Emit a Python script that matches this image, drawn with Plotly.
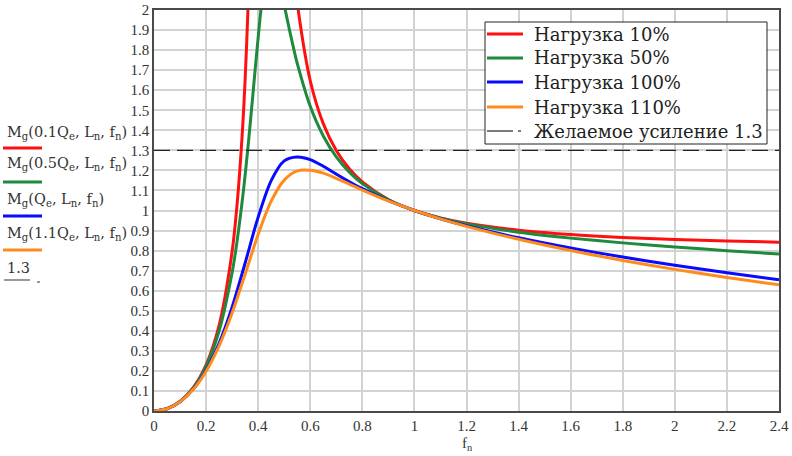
import plotly.graph_objects as go

# ---------------- data ----------------
fn_rg = [0, 0.05, 0.1, 0.15, 0.2, 0.25, 0.3, 0.32, 0.34, 0.35, 0.36, 0.37, 0.38, 0.4, 0.42,
         0.45, 0.48, 0.5, 0.52, 0.54, 0.55, 0.6, 0.65, 0.7, 0.75, 0.8, 0.9, 1.0, 1.1, 1.2,
         1.4, 1.6, 1.8, 2.0, 2.2, 2.4]
load10 = [0, 0.0114, 0.0476, 0.1155, 0.2304, 0.4273, 0.7964, 1.0442, 1.4056, 1.6550, 1.9752,
          2.3996, 2.984, 5.117, 9.76, 6.59, 3.714, 2.9307, 2.4621, 2.1527, 2.0347, 1.6470,
          1.4335, 1.2995, 1.2082, 1.1425, 1.0549, 1.0, 0.9628, 0.9363, 0.9014, 0.8800,
          0.8656, 0.8555, 0.8479, 0.8421]
load50 = [0, 0.0114, 0.0473, 0.1137, 0.2228, 0.3992, 0.6904, 0.8565, 1.0602, 1.1773, 1.3045,
          1.4402, 1.5818, 1.8628, 2.092, 2.2303, 2.1407, 2.0245, 1.9016, 1.7864, 1.7336,
          1.5195, 1.3718, 1.2677, 1.1916, 1.1340, 1.0535, 1.0, 0.9619, 0.9332, 0.8918,
          0.8622, 0.8385, 0.8181, 0.7997, 0.7825]
fn_bo = [0, 0.05, 0.1, 0.15, 0.2, 0.25, 0.3, 0.35, 0.4, 0.45, 0.5, 0.55, 0.6, 0.65, 0.7,
         0.75, 0.8, 0.9, 1.0, 1.1, 1.2, 1.4, 1.6, 1.8, 2.0, 2.2, 2.4]
load100 = [0, 0.0113, 0.0464, 0.1085, 0.2032, 0.3378, 0.5179, 0.7382, 0.9670, 1.1490, 1.2475,
           1.2670, 1.2540, 1.2206, 1.1816, 1.1436, 1.1087, 1.0489, 1.0, 0.9590, 0.9236,
           0.8637, 0.8128, 0.7677, 0.7269, 0.6895, 0.6551]
load110 = [0, 0.0113, 0.0462, 0.1072, 0.1985, 0.3250, 0.4889, 0.6825, 0.8811, 1.0464, 1.1515,
           1.1975, 1.2010, 1.1865, 1.1604, 1.1312, 1.1020, 1.0476, 1.0, 0.9582, 0.9210,
           0.8563, 0.8004, 0.7509, 0.7064, 0.6660, 0.6293]
target_x = [0, 2.4]
target_y = [1.3, 1.3]

names = ["Нагрузка 10%", "Нагрузка 50%", "Нагрузка 100%", "Нагрузка 110%",
         "Желаемое усиление 1.3"]
colors = ["#ff1010", "#1d8a3e", "#0a0aff", "#ff8c1a"]

x_ticks = [0, 0.2, 0.4, 0.6, 0.8, 1, 1.2, 1.4, 1.6, 1.8, 2, 2.2, 2.4]
x_labels = ["0", "0.2", "0.4", "0.6", "0.8", "1", "1.2", "1.4", "1.6", "1.8", "2", "2.2", "2.4"]
y_ticks = [0, 0.1, 0.2, 0.3, 0.4, 0.5, 0.6, 0.7, 0.8, 0.9, 1, 1.1, 1.2, 1.3, 1.4, 1.5, 1.6,
           1.7, 1.8, 1.9, 2]
y_labels = ["0", "0.1", "0.2", "0.3", "0.4", "0.5", "0.6", "0.7", "0.8", "0.9", "1", "1.1",
            "1.2", "1.3", "1.4", "1.5", "1.6", "1.7", "1.8", "1.9", "2"]

side_labels = ["M<sub>g</sub>(0.1Q<sub>e</sub>, L<sub>n</sub>, f<sub>n</sub>)",
               "M<sub>g</sub>(0.5Q<sub>e</sub>, L<sub>n</sub>, f<sub>n</sub>)",
               "M<sub>g</sub>(Q<sub>e</sub>, L<sub>n</sub>, f<sub>n</sub>)",
               "M<sub>g</sub>(1.1Q<sub>e</sub>, L<sub>n</sub>, f<sub>n</sub>)",
               "1.3"]

# ---------------- layout geometry ----------------
W, H = 792, 456
L, R, T, B = 154, 13, 10, 45
PW, PH = W - L - R, H - T - B
SERIF = "Liberation Serif"
WIDE_SERIF = "DejaVu Serif"


def px(x):
    return (x - L) / PW


def py(y):
    return (H - B - y) / PH


def hline(x0, x1, y, color, width, dash="solid"):
    return dict(type="line", xref="paper", yref="paper", x0=px(x0), x1=px(x1),
                y0=py(y), y1=py(y), line=dict(color=color, width=width, dash=dash))


fig = go.Figure()
series = [(fn_rg, load10), (fn_rg, load50), (fn_bo, load100), (fn_bo, load110)]
for (xs, ys), name, col in zip(series, names[:4], colors):
    fig.add_trace(go.Scatter(x=xs, y=ys, mode="lines", name=name, showlegend=False,
                             line=dict(color=col, width=3, shape="spline", smoothing=0.8)))
fig.add_trace(go.Scatter(x=target_x, y=target_y, mode="lines", name=names[4], showlegend=False,
                         line=dict(color="#222222", width=1.2, dash="16px,7px")))

axis_common = dict(showgrid=True, gridcolor="#d2d2d2", gridwidth=1.5, automargin=False,
                   showline=True, linecolor="#4a4a4a", linewidth=1.5, mirror=True,
                   zeroline=False, ticks="", tickfont=dict(family=SERIF, size=15, color="#333"))
fig.update_xaxes(range=[0, 2.4], tickvals=x_ticks, ticktext=x_labels, **axis_common)
fig.update_yaxes(range=[0, 2], tickvals=y_ticks, ticktext=y_labels, **axis_common)

annotations = [dict(text="f<sub>n</sub>", x=px(467), y=py(444), xref="paper", yref="paper",
                    xanchor="center", yanchor="middle", showarrow=False,
                    font=dict(family=SERIF, size=15, color="#333"))]
shapes = []

# left-hand trace labels (Mathcad style)
label_y = [133, 164, 200, 234, 268]
line_y = [148, 182, 216, 250, 280]
for i, txt in enumerate(side_labels):
    annotations.append(dict(text=txt, x=px(5), y=py(label_y[i]), xref="paper", yref="paper",
                            xanchor="left", yanchor="middle", showarrow=False,
                            font=dict(family=WIDE_SERIF, size=14.5, color="#333")))
for i, col in enumerate(colors):
    shapes.append(hline(3, 42, line_y[i], col, 3))
shapes.append(hline(4, 30, 280, "#333", 1))
shapes.append(hline(37, 40, 282, "#333", 1))

# legend box
shapes.append(dict(type="rect", xref="paper", yref="paper", x0=px(485), x1=px(767),
                   y0=py(144), y1=py(22), fillcolor="white",
                   line=dict(color="#222", width=1), layer="above"))
leg_y = [34, 58, 82, 107, 131]
for i, col in enumerate(colors):
    shapes.append(hline(487, 523, leg_y[i], col, 3))
shapes.append(hline(487, 513, leg_y[4], "#222", 1.2))
shapes.append(hline(518, 521, leg_y[4], "#222", 1.2))
for i, name in enumerate(names):
    annotations.append(dict(text=name, x=px(532), y=py(leg_y[i]), xref="paper", yref="paper",
                            xanchor="left", yanchor="middle", showarrow=False,
                            font=dict(family=WIDE_SERIF, size=18, color="#222")))
for s in shapes[-7:]:
    s["layer"] = "above"

fig.update_layout(
    width=W, height=H, margin=dict(l=L, r=R, t=T, b=B),
    paper_bgcolor="white", plot_bgcolor="white",
    font=dict(family=SERIF, color="#222"),
    showlegend=False,
    annotations=annotations, shapes=shapes,
)

fig.write_html("out.html", post_script="document.body.style.margin='0';",
               config={"displayModeBar": False})
